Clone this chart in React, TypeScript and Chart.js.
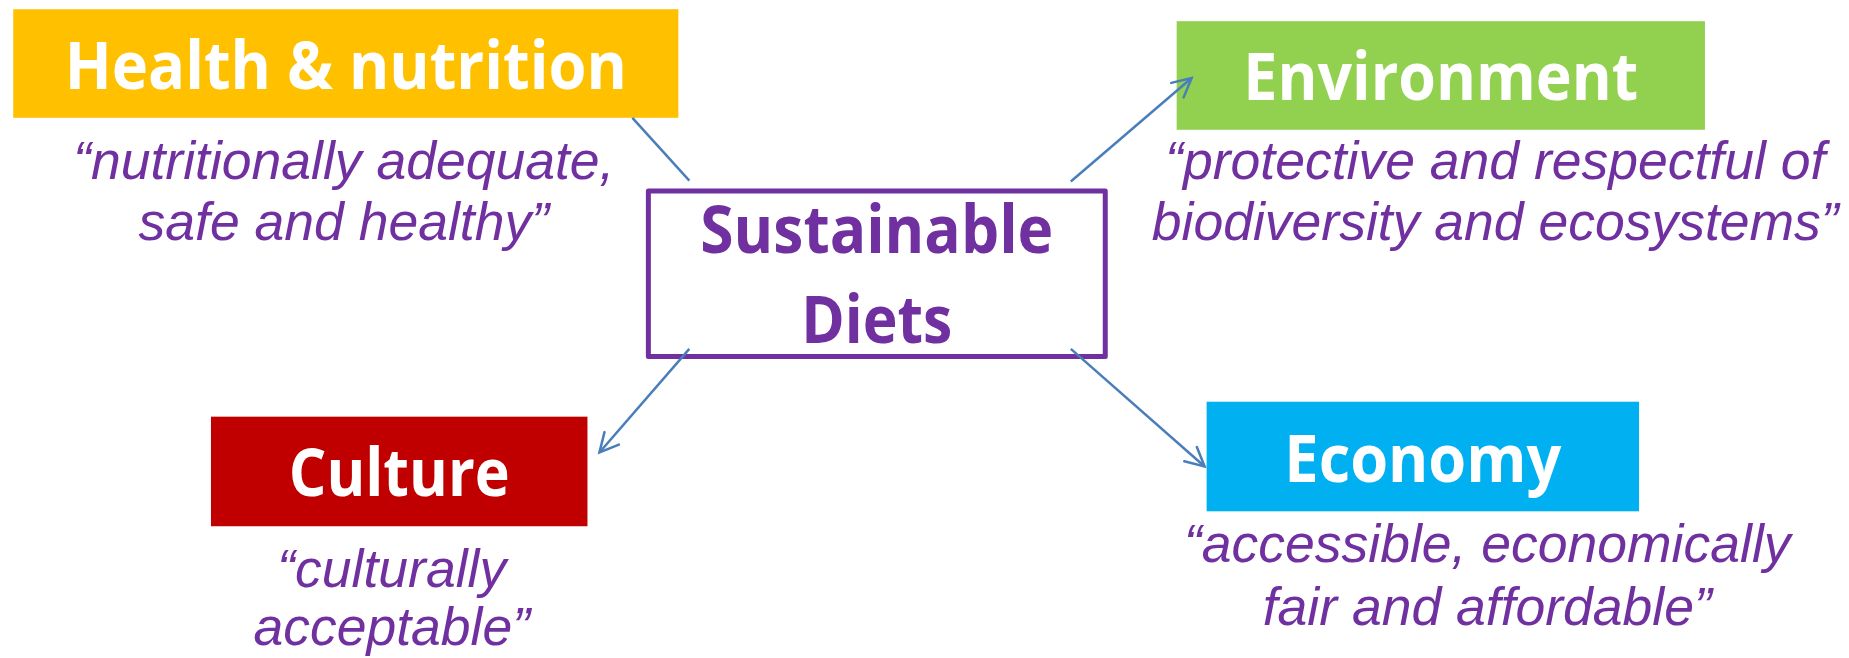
import React, { useEffect, useRef } from "react";
import { Chart, registerables } from "chart.js";

Chart.register(...registerables);

// ---- Data ----
const nodeTitles = ["Health & nutrition", "Environment", "Culture", "Economy"];
const nodeQuoteLine1 = [
  "“nutritionally adequate,",
  "“protective and respectful of",
  "“culturally",
  "“accessible, economically",
];
const nodeQuoteLine2 = [
  "safe and healthy”",
  "biodiversity and ecosystems”",
  "acceptable”",
  "fair and affordable”",
];
const centerTitleLines = ["Sustainable", "Diets"];
const linkFromX = [632, 1071, 689, 1071];
const linkFromY = [117, 181, 349, 349];
const linkToX = [689, 1192, 599, 1205];
const linkToY = [180, 77, 453, 467];
const linkHasArrow = [false, true, true, true];

// ---- Layout & style (not data) ----
const W = 1849;
const H = 658;
const LAYOUT = {
  boxLeft: [12, 1177, 210, 1207],
  boxRight: [678, 1706, 587, 1640],
  boxTop: [8, 20, 417, 402],
  boxBottom: [117, 129, 527, 512],
  titleWidth: [562, 395, 221, 277],
  quoteCenterX: [343, 1496, 391, 1488],
  quoteBaseline1: [178, 178, 588, 563],
  quoteBaseline2: [240, 240, 646, 626],
  centerBox: { left: 648, right: 1105.5, top: 190.5, bottom: 356.5 },
  centerBaselines: [253, 343],
  centerWidths: [353, 151],
};
const BOX_COLORS = ["#FFC000", "#92D050", "#C00000", "#00B0F0"];
const PURPLE = "#7030A0";
const LINK_COLOR = "#4A7EBB";
const TITLE_FONT = "bold 67px 'Open Sans', 'DejaVu Sans', sans-serif";
const QUOTE_FONT = "italic 53.5px 'Liberation Sans', Arial, sans-serif";

function fitText(ctx: CanvasRenderingContext2D, text: string, cx: number, baseline: number, width: number) {
  const m = ctx.measureText(text).width;
  const sx = m > 0 ? width / m : 1;
  ctx.save();
  ctx.translate(cx, baseline);
  ctx.scale(sx, 1);
  ctx.textAlign = "center";
  ctx.textBaseline = "alphabetic";
  ctx.fillText(text, 0, 0);
  ctx.restore();
}

const diagramPlugin = {
  id: "diagram",
  beforeDatasetsDraw(chart: any) {
    const ctx: CanvasRenderingContext2D = chart.ctx;
    const xs = chart.scales.x;
    const ys = chart.scales.y;
    const px = (v: number) => xs.getPixelForValue(v);
    const py = (v: number) => ys.getPixelForValue(v);
    ctx.save();
    ctx.fillStyle = "#ffffff";
    ctx.fillRect(0, 0, chart.width, chart.height);

    nodeTitles.forEach((title, i) => {
      const l = px(LAYOUT.boxLeft[i]);
      const r = px(LAYOUT.boxRight[i]);
      const t = py(LAYOUT.boxTop[i]);
      const b = py(LAYOUT.boxBottom[i]);
      ctx.fillStyle = BOX_COLORS[i];
      ctx.fillRect(l, t, r - l, b - t);
      ctx.fillStyle = "#ffffff";
      ctx.font = TITLE_FONT;
      fitText(ctx, title, (l + r) / 2, (t + b) / 2 + 25, LAYOUT.titleWidth[i]);
      ctx.fillStyle = PURPLE;
      ctx.font = QUOTE_FONT;
      ctx.textAlign = "center";
      ctx.textBaseline = "alphabetic";
      ctx.fillText(nodeQuoteLine1[i], px(LAYOUT.quoteCenterX[i]), py(LAYOUT.quoteBaseline1[i]));
      ctx.fillText(nodeQuoteLine2[i], px(LAYOUT.quoteCenterX[i]), py(LAYOUT.quoteBaseline2[i]));
    });

    const cb = LAYOUT.centerBox;
    ctx.strokeStyle = PURPLE;
    ctx.lineWidth = 5;
    ctx.lineJoin = "round";
    ctx.strokeRect(px(cb.left), py(cb.top), px(cb.right) - px(cb.left), py(cb.bottom) - py(cb.top));
    ctx.fillStyle = PURPLE;
    ctx.font = TITLE_FONT;
    centerTitleLines.forEach((line, i) => {
      fitText(ctx, line, (px(cb.left) + px(cb.right)) / 2, py(LAYOUT.centerBaselines[i]), LAYOUT.centerWidths[i]);
    });
    ctx.restore();
  },
  afterDatasetsDraw(chart: any) {
    const ctx: CanvasRenderingContext2D = chart.ctx;
    const xs = chart.scales.x;
    const ys = chart.scales.y;
    ctx.save();
    ctx.strokeStyle = LINK_COLOR;
    ctx.lineWidth = 2.5;
    ctx.lineCap = "round";
    linkHasArrow.forEach((has, i) => {
      if (!has) return;
      const tx = xs.getPixelForValue(linkToX[i]);
      const ty = ys.getPixelForValue(linkToY[i]);
      const fx = xs.getPixelForValue(linkFromX[i]);
      const fy = ys.getPixelForValue(linkFromY[i]);
      const ang = Math.atan2(fy - ty, fx - tx);
      const len = 21;
      const spread = (27 * Math.PI) / 180;
      ctx.beginPath();
      ctx.moveTo(tx + len * Math.cos(ang + spread), ty + len * Math.sin(ang + spread));
      ctx.lineTo(tx, ty);
      ctx.lineTo(tx + len * Math.cos(ang - spread), ty + len * Math.sin(ang - spread));
      ctx.stroke();
    });
    ctx.restore();
  },
};

export default function App() {
  const canvasRef = useRef<HTMLCanvasElement | null>(null);

  useEffect(() => {
    document.body.style.margin = "0";
    const canvas = canvasRef.current;
    if (!canvas) return;
    const chart = new Chart(canvas, {
      type: "scatter",
      data: {
        datasets: linkFromX.map((_, i) => ({
          type: "line" as const,
          data: [
            { x: linkFromX[i], y: linkFromY[i] },
            { x: linkToX[i], y: linkToY[i] },
          ],
          borderColor: LINK_COLOR,
          borderWidth: 2.5,
          pointRadius: 0,
          showLine: true,
          fill: false,
          tension: 0,
        })),
      },
      options: {
        animation: false,
        responsive: false,
        maintainAspectRatio: false,
        devicePixelRatio: 1,
        events: [],
        layout: { padding: 0 },
        plugins: { legend: { display: false }, tooltip: { enabled: false } },
        scales: {
          x: { type: "linear", min: 0, max: W, display: false },
          y: { type: "linear", min: 0, max: H, reverse: true, display: false },
        },
      },
      plugins: [diagramPlugin],
    } as any);
    if ((document as any).fonts) {
      Promise.all([
        (document as any).fonts.load(TITLE_FONT),
        (document as any).fonts.load(QUOTE_FONT),
      ]).then(() => chart.update()).catch(() => {});
    }
    return () => chart.destroy();
  }, []);

  return (
    <div style={{ width: W, height: H, position: "relative", background: "#fff" }}>
      <canvas ref={canvasRef} width={W} height={H} style={{ width: W, height: H, display: "block" }} />
    </div>
  );
}
